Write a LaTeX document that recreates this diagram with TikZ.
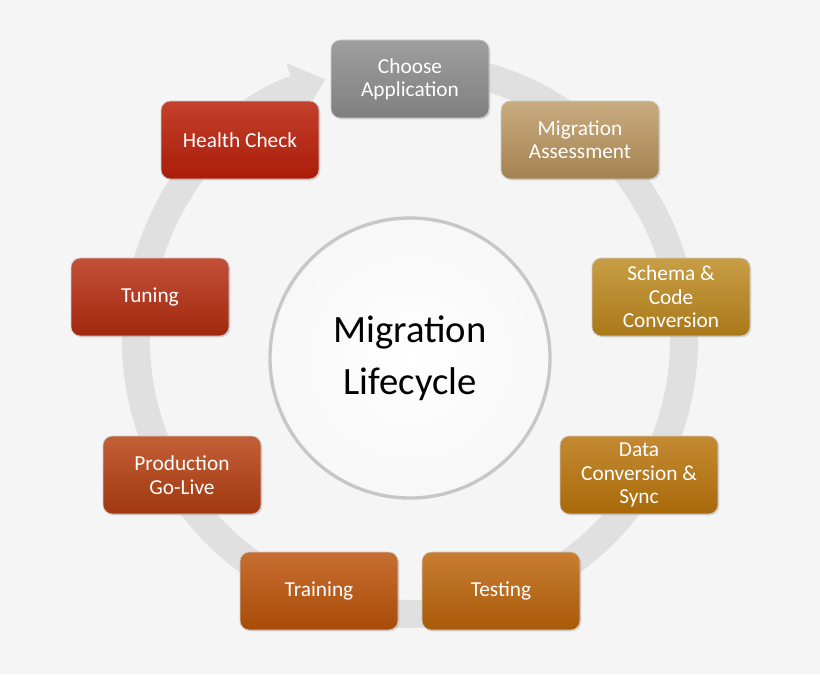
\documentclass[tikz,border=0pt]{standalone}
\usepackage{fontspec}
\setmainfont{Carlito}
\usetikzlibrary{arrows.meta,shadows}
\tikzset{
 box/.style={rounded corners=7pt, minimum width=118.5pt, minimum height=58.5pt, align=center, text=white, font=\fontsize{16}{17.5}\selectfont, draw=white!80!black, line width=0.5pt, drop shadow={shadow xshift=1pt,shadow yshift=-1pt,opacity=0.25}},
}
\begin{document}
\begin{tikzpicture}[x=0.75pt,y=-0.75pt]
\fill[black!4] (0,0) rectangle (820,674);
\useasboundingbox (0,0) rectangle (820,674);
\coordinate (rc) at (410,340);
\draw[black!12, line width=21pt, -{Triangle[length=24pt,width=40pt]}] ([shift={(-80:274)}]rc) arc[start angle=80, end angle=-252, radius=274*0.75pt];
\node[circle, minimum size=210pt, draw=black!22, line width=2.5pt, inner color=white, outer color=black!3] (c) at (410,358) {};
\node[font=\fontsize{29}{39}\selectfont, align=center] at (c) {Migration\\Lifecycle};
\node[box, top color=black!38, bottom color=black!50] (n1) at (410,79) {Choose\\Application};
\node[box, top color={rgb,255:red,200;green,172;blue,128}, bottom color={rgb,255:red,165;green,130;blue,80}] (n2) at (580,140) {Migration\\Assessment};
\node[box, top color={rgb,255:red,200;green,158;blue,70}, bottom color={rgb,255:red,170;green,120;blue,25}] (n3) at (671,297) {Schema \&\\Code\\Conversion};
\node[box, top color={rgb,255:red,196;green,138;blue,50}, bottom color={rgb,255:red,168;green,105;blue,10}] (n4) at (639,475) {Data\\Conversion \&\\Sync};
\node[box, top color={rgb,255:red,200;green,125;blue,50}, bottom color={rgb,255:red,168;green,90;blue,8}] (n5) at (501,591) {Testing};
\node[box, top color={rgb,255:red,200;green,110;blue,50}, bottom color={rgb,255:red,168;green,75;blue,8}] (n6) at (319,591) {Training};
\node[box, top color={rgb,255:red,195;green,95;blue,55}, bottom color={rgb,255:red,160;green,55;blue,15}] (n7) at (182,475) {Production\\Go-Live};
\node[box, top color={rgb,255:red,195;green,80;blue,55}, bottom color={rgb,255:red,160;green,40;blue,15}] (n8) at (150,297) {Tuning};
\node[box, top color={rgb,255:red,195;green,65;blue,45}, bottom color={rgb,255:red,170;green,28;blue,8}] (n9) at (240,140) {Health Check};
\end{tikzpicture}
\end{document}
